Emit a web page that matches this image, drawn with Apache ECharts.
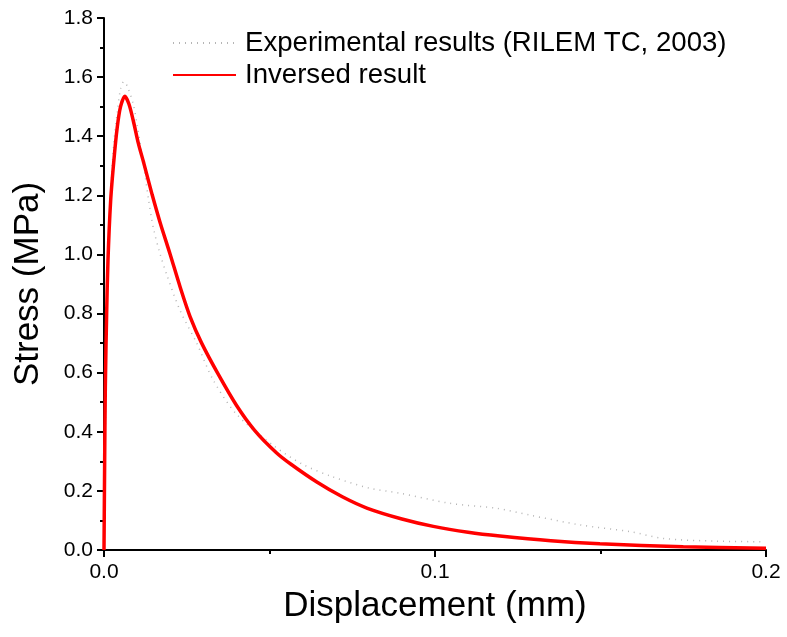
<!DOCTYPE html>
<html><head><meta charset="utf-8">
<script src="https://cdn.jsdelivr.net/npm/echarts@6/dist/echarts.min.js"></script>
<style>html,body{margin:0;padding:0;background:#fff}#c{width:787px;height:637px}</style>
</head><body><div id="c"></div>
<script>
// Experimental results (RILEM TC, 2003): displacement (mm), stress (MPa)
var expDisp = [0, 0.0005, 0.001, 0.002, 0.003, 0.004, 0.005, 0.006, 0.007, 0.0088, 0.010, 0.012, 0.0134, 0.0149, 0.017, 0.019, 0.023, 0.028, 0.033, 0.040, 0.051, 0.060, 0.069, 0.080, 0.0894, 0.1045, 0.1187, 0.1287, 0.1438, 0.159, 0.169, 0.185, 0.199];
var expStress = [0, 0.5, 0.9, 1.2, 1.38, 1.48, 1.56, 1.585, 1.57, 1.51, 1.44, 1.30, 1.19, 1.09, 1.0, 0.93, 0.81, 0.70, 0.575, 0.46, 0.355, 0.29, 0.248, 0.21, 0.192, 0.158, 0.141, 0.118, 0.085, 0.062, 0.039, 0.030, 0.028];
// Inversed result
var invDisp = [0, 0.0002, 0.0004, 0.0008, 0.0012, 0.002, 0.003, 0.004, 0.005, 0.0063, 0.0075, 0.0088, 0.0104, 0.0120, 0.0146, 0.0169, 0.0200, 0.0230, 0.0260, 0.0295, 0.0345, 0.040, 0.0455, 0.052, 0.0565, 0.0643, 0.072, 0.0794, 0.090, 0.0995, 0.110, 0.1196, 0.135, 0.1498, 0.175, 0.2];
var invStress = [0, 0.3, 0.55, 0.8, 0.98, 1.18, 1.32, 1.43, 1.50, 1.535, 1.51, 1.455, 1.375, 1.31, 1.2, 1.11, 1.0, 0.89, 0.79, 0.70, 0.595, 0.49, 0.405, 0.33, 0.29, 0.23, 0.18, 0.142, 0.105, 0.08, 0.06, 0.047, 0.031, 0.021, 0.011, 0.006];
var seriesNames = ['Experimental results (RILEM TC, 2003)', 'Inversed result'];
var xTicks = {min: 0, max: 0.2, interval: 0.1};
var yTicks = {min: 0, max: 1.8, interval: 0.2};

function zip(a, b) { return a.map(function (v, i) { return [v, b[i]]; }); }
var font = 'Arial, "Liberation Sans", sans-serif';
var chart = echarts.init(document.getElementById('c'));
var axisCommon = {
  axisLine: {show: true, lineStyle: {color: '#000', width: 2}},
  axisTick: {show: true, inside: false, length: 7, lineStyle: {color: '#000', width: 2}},
  minorTick: {show: true, splitNumber: 2, length: 4, lineStyle: {color: '#000', width: 2}},
  splitLine: {show: false},
  axisLabel: {color: '#000', fontSize: 21, fontFamily: font, formatter: function (v) { return v.toFixed(1); }},
  nameTextStyle: {color: '#000', fontSize: 35, fontFamily: font}
};
chart.setOption({
  animation: false,
  backgroundColor: '#fff',
  grid: {left: 104, top: 18, right: 21, bottom: 87, containLabel: false},
  legend: {
    orient: 'vertical', left: 172, top: 29, padding: 0, itemWidth: 63, itemHeight: 14, itemGap: 4,
    itemStyle: {opacity: 0},
    textStyle: {color: '#000', fontSize: 27.6, fontFamily: font, lineHeight: 28, padding: [0, 0, 0, 4]},
    data: seriesNames
  },
  xAxis: Object.assign({}, axisCommon, {
    type: 'value', min: xTicks.min, max: xTicks.max, interval: xTicks.interval,
    name: 'Displacement (mm)', nameLocation: 'middle', nameGap: 39,
    axisLabel: Object.assign({}, axisCommon.axisLabel, {margin: 12})
  }),
  yAxis: Object.assign({}, axisCommon, {
    type: 'value', min: yTicks.min, max: yTicks.max, interval: yTicks.interval,
    name: 'Stress (MPa)', nameLocation: 'middle', nameGap: 58,
    axisLabel: Object.assign({}, axisCommon.axisLabel, {margin: 11})
  }),
  series: [
    {
      name: seriesNames[0], type: 'line', data: zip(expDisp, expStress), showSymbol: false, symbol: 'none',
      smooth: 0.3, lineStyle: {color: '#b5b5b5', width: 1.5, type: [1, 5]}, itemStyle: {color: '#b5b5b5'}, z: 2
    },
    {
      name: seriesNames[1], type: 'line', data: zip(invDisp, invStress), showSymbol: false, symbol: 'none',
      smooth: 0.3, lineStyle: {color: '#ff0000', width: 3.5}, itemStyle: {color: '#ff0000'}, z: 3
    }
  ]
});
</script>
</body></html>
